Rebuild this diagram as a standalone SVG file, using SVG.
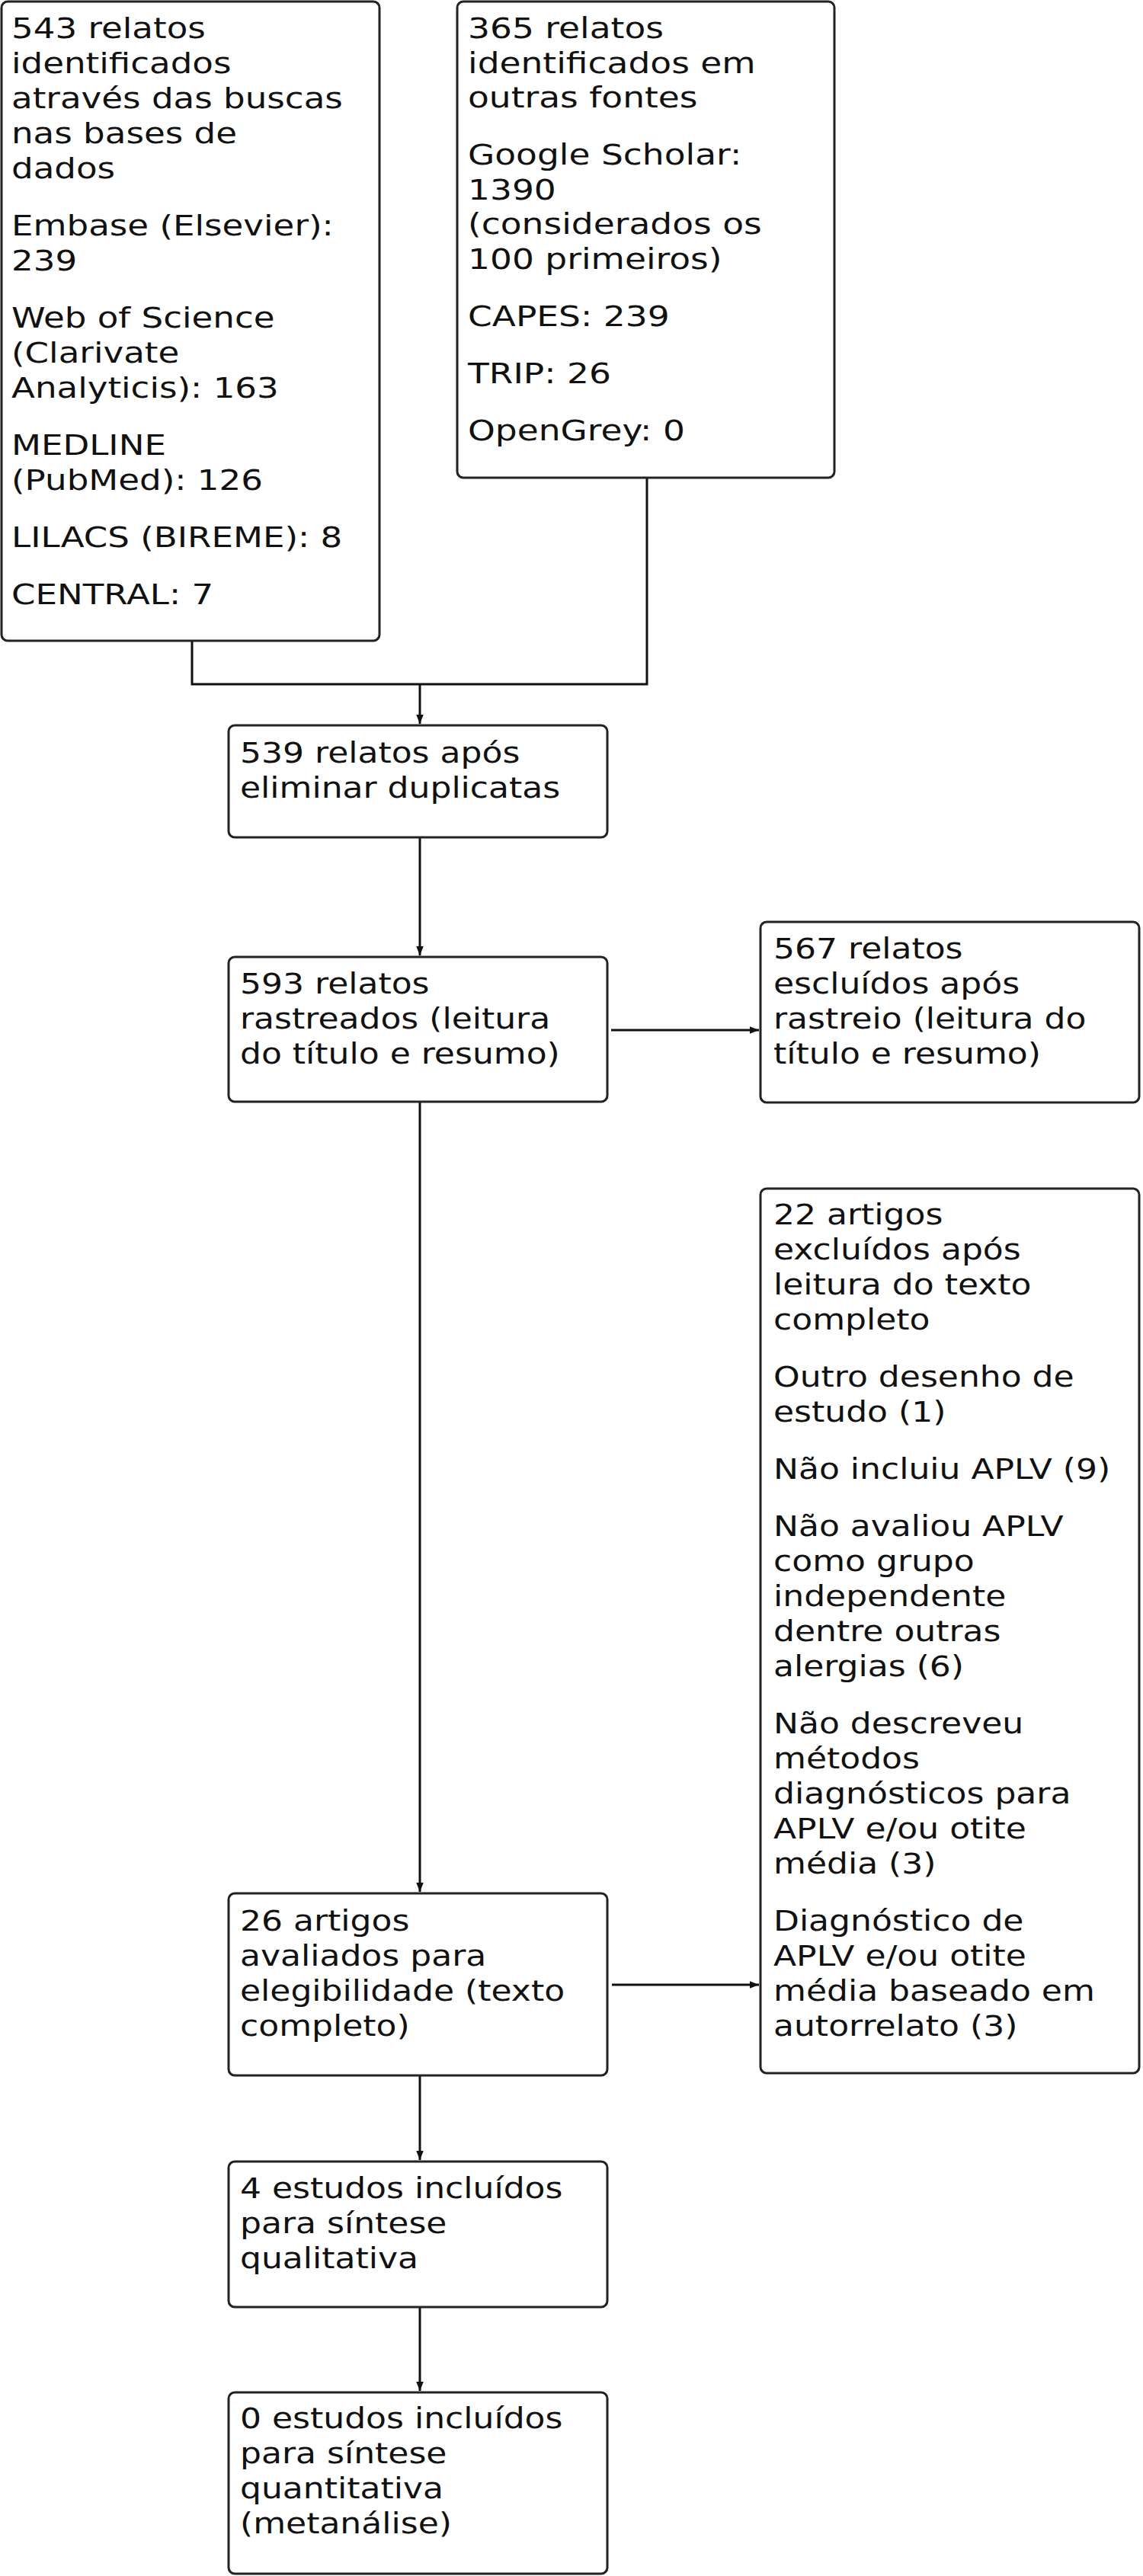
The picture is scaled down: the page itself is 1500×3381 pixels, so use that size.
<svg xmlns="http://www.w3.org/2000/svg" width="1500" height="3381" viewBox="0 0 1500 3381">
<style>
.box{fill:#fff;stroke:#222;stroke-width:3}
.t{font-family:"DejaVu Sans",Verdana,sans-serif;font-size:37px;fill:#111}
.c{fill:none;stroke:#111;stroke-width:3}
</style>
<defs>
<marker id="ah" viewBox="0 0 10 10" refX="10" refY="5" markerWidth="12" markerHeight="12" markerUnits="userSpaceOnUse" orient="auto">
<path d="M0,1 L10,5 L0,9 z" fill="#111"/>
</marker>
</defs>
<rect width="1500" height="3381" fill="#fff"/>
<g id="connectors">
<path class="c" d="M252,841 V898 H849 V627"/>
<path class="c" d="M551,898 V950" marker-end="url(#ah)"/>
<path class="c" d="M551,1099 V1254" marker-end="url(#ah)"/>
<path class="c" d="M802,1352 H996" marker-end="url(#ah)"/>
<path class="c" d="M551,1446 V2483" marker-end="url(#ah)"/>
<path class="c" d="M803,2605 H996" marker-end="url(#ah)"/>
<path class="c" d="M551,2724 V2835" marker-end="url(#ah)"/>
<path class="c" d="M551,3028 V3138" marker-end="url(#ah)"/>
</g>
<g id="n1">
<rect class="box" x="2" y="2" width="496" height="839" rx="8"/>
<text class="t" transform="translate(15 0) scale(1.22 1)">
<tspan x="0" y="50">543 relatos</tspan>
<tspan x="0" y="96">identificados</tspan>
<tspan x="0" y="142">através das buscas</tspan>
<tspan x="0" y="188">nas bases de</tspan>
<tspan x="0" y="234">dados</tspan>
<tspan x="0" y="309">Embase (Elsevier):</tspan>
<tspan x="0" y="355">239</tspan>
<tspan x="0" y="430">Web of Science</tspan>
<tspan x="0" y="476">(Clarivate</tspan>
<tspan x="0" y="522">Analyticis): 163</tspan>
<tspan x="0" y="597">MEDLINE</tspan>
<tspan x="0" y="643">(PubMed): 126</tspan>
<tspan x="0" y="718">LILACS (BIREME): 8</tspan>
<tspan x="0" y="793">CENTRAL: 7</tspan>
</text>
</g>
<g id="n2">
<rect class="box" x="600" y="2" width="495" height="625" rx="8"/>
<text class="t" transform="translate(614 0) scale(1.23 1)">
<tspan x="0" y="50">365 relatos</tspan>
<tspan x="0" y="96">identificados em</tspan>
<tspan x="0" y="141">outras fontes</tspan>
<tspan x="0" y="216">Google Scholar:</tspan>
<tspan x="0" y="262">1390</tspan>
<tspan x="0" y="307">(considerados os</tspan>
<tspan x="0" y="353">100 primeiros)</tspan>
<tspan x="0" y="428">CAPES: 239</tspan>
<tspan x="0" y="503">TRIP: 26</tspan>
<tspan x="0" y="578">OpenGrey: 0</tspan>
</text>
</g>
<g id="n3">
<rect class="box" x="300" y="952" width="497" height="147" rx="8"/>
<text class="t" transform="translate(315 0) scale(1.19 1)">
<tspan x="0" y="1001">539 relatos após</tspan>
<tspan x="0" y="1047">eliminar duplicatas</tspan>
</text>
</g>
<g id="n4">
<rect class="box" x="300" y="1256" width="497" height="190" rx="8"/>
<text class="t" transform="translate(315 0) scale(1.19 1)">
<tspan x="0" y="1304">593 relatos</tspan>
<tspan x="0" y="1350">rastreados (leitura</tspan>
<tspan x="0" y="1396">do título e resumo)</tspan>
</text>
</g>
<g id="n5">
<rect class="box" x="998" y="1210" width="497" height="237" rx="8"/>
<text class="t" transform="translate(1015 0) scale(1.19 1)">
<tspan x="0" y="1258">567 relatos</tspan>
<tspan x="0" y="1304">escluídos após</tspan>
<tspan x="0" y="1350">rastreio (leitura do</tspan>
<tspan x="0" y="1396">título e resumo)</tspan>
</text>
</g>
<g id="n6">
<rect class="box" x="998" y="1560" width="497" height="1161" rx="8"/>
<text class="t" transform="translate(1015 0) scale(1.19 1)">
<tspan x="0" y="1607">22 artigos</tspan>
<tspan x="0" y="1653">excluídos após</tspan>
<tspan x="0" y="1699">leitura do texto</tspan>
<tspan x="0" y="1745">completo</tspan>
<tspan x="0" y="1820">Outro desenho de</tspan>
<tspan x="0" y="1866">estudo (1)</tspan>
<tspan x="0" y="1941">Não incluiu APLV (9)</tspan>
<tspan x="0" y="2016">Não avaliou APLV</tspan>
<tspan x="0" y="2062">como grupo</tspan>
<tspan x="0" y="2108">independente</tspan>
<tspan x="0" y="2154">dentre outras</tspan>
<tspan x="0" y="2200">alergias (6)</tspan>
<tspan x="0" y="2275">Não descreveu</tspan>
<tspan x="0" y="2321">métodos</tspan>
<tspan x="0" y="2367">diagnósticos para</tspan>
<tspan x="0" y="2413">APLV e/ou otite</tspan>
<tspan x="0" y="2459">média (3)</tspan>
<tspan x="0" y="2534">Diagnóstico de</tspan>
<tspan x="0" y="2580">APLV e/ou otite</tspan>
<tspan x="0" y="2626">média baseado em</tspan>
<tspan x="0" y="2672">autorrelato (3)</tspan>
</text>
</g>
<g id="n7">
<rect class="box" x="300" y="2485" width="497" height="239" rx="8"/>
<text class="t" transform="translate(315 0) scale(1.19 1)">
<tspan x="0" y="2534">26 artigos</tspan>
<tspan x="0" y="2580">avaliados para</tspan>
<tspan x="0" y="2626">elegibilidade (texto</tspan>
<tspan x="0" y="2672">completo)</tspan>
</text>
</g>
<g id="n8">
<rect class="box" x="300" y="2837" width="497" height="191" rx="8"/>
<text class="t" transform="translate(315 0) scale(1.19 1)">
<tspan x="0" y="2885">4 estudos incluídos</tspan>
<tspan x="0" y="2931">para síntese</tspan>
<tspan x="0" y="2977">qualitativa</tspan>
</text>
</g>
<g id="n9">
<rect class="box" x="300" y="3140" width="497" height="238" rx="8"/>
<text class="t" transform="translate(315 0) scale(1.19 1)">
<tspan x="0" y="3187">0 estudos incluídos</tspan>
<tspan x="0" y="3233">para síntese</tspan>
<tspan x="0" y="3279">quantitativa</tspan>
<tspan x="0" y="3325">(metanálise)</tspan>
</text>
</g>
</svg>
